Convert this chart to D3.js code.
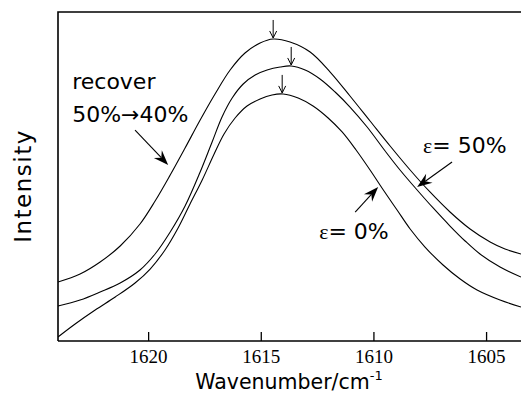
<!DOCTYPE html>
<html>
<head>
<meta charset="utf-8">
<script src="https://cdn.jsdelivr.net/npm/d3@7/dist/d3.min.js"></script>
<style>
  html, body { margin: 0; padding: 0; background: #fff; }
  svg { display: block; }
</style>
</head>
<body>
<svg id="chart" width="521" height="397"></svg>
<script>
// ---- data (wavenumber in cm^-1, intensity in arbitrary units) ----
const recoverWave = [1624.00, 1623.02, 1622.13, 1621.24, 1620.36, 1619.69, 1619.02, 1618.36, 1617.69, 1617.03, 1616.36, 1615.70, 1615.03, 1614.45, 1613.70, 1612.81, 1611.92, 1611.04, 1610.15, 1609.26, 1608.37, 1607.49, 1606.60, 1605.71, 1604.82, 1604.16, 1603.45];
const recoverInt  = [17.93, 20.36, 24.01, 28.88, 35.56, 42.55, 50.46, 58.66, 67.17, 75.08, 82.37, 87.54, 90.58, 91.79, 90.88, 87.84, 81.76, 74.47, 66.87, 59.27, 51.98, 45.29, 39.21, 34.04, 30.09, 27.96, 26.44];

const strain50Wave = [1624.00, 1623.02, 1622.13, 1621.24, 1620.36, 1619.69, 1619.02, 1618.36, 1617.69, 1617.16, 1616.72, 1616.27, 1615.78, 1615.25, 1614.72, 1614.14, 1613.65, 1613.03, 1612.37, 1611.70, 1611.04, 1610.28, 1609.48, 1608.82, 1608.06, 1607.35, 1606.60, 1605.93, 1605.27, 1604.38, 1603.45];
const strain50Int  = [10.64, 12.46, 14.89, 17.63, 21.58, 26.44, 33.13, 41.03, 51.37, 60.49, 68.09, 73.86, 78.12, 80.85, 82.37, 83.28, 83.59, 82.37, 79.64, 75.68, 71.12, 65.05, 57.75, 51.98, 45.90, 40.43, 34.95, 30.40, 26.44, 22.49, 19.45];

const strain0Wave = [1624.00, 1623.24, 1622.35, 1621.46, 1620.58, 1619.91, 1619.25, 1618.67, 1618.14, 1617.60, 1617.07, 1616.63, 1616.14, 1615.61, 1615.03, 1614.50, 1614.01, 1613.34, 1612.68, 1612.01, 1611.39, 1610.77, 1610.15, 1609.53, 1608.95, 1608.37, 1607.71, 1606.91, 1606.15, 1605.40, 1604.38, 1603.45];
const strain0Int  = [1.22, 5.17, 9.42, 13.37, 17.63, 21.88, 27.66, 34.35, 41.64, 48.94, 56.84, 62.92, 67.78, 71.43, 73.56, 74.77, 75.08, 73.86, 71.43, 67.78, 63.53, 58.05, 51.98, 45.59, 39.82, 34.04, 28.57, 23.10, 18.84, 15.50, 12.46, 10.33];

const peakWave = [1614.45, 1613.65, 1614.05];   // arrows marking band maxima
const peakInt  = [91.8, 83.6, 75.1];

const xTicks = [1620, 1615, 1610, 1605];
const xDomain = [1624, 1603.45];
const yDomain = [0, 100];

// ---- layout ----
const svg = d3.select("#chart");
const L = 58, R = 521, T = 12, B = 341;
const x = d3.scaleLinear().domain(xDomain).range([L, R]);
const y = d3.scaleLinear().domain(yDomain).range([B, T]);

svg.append("defs").append("clipPath").attr("id", "clip")
  .append("rect").attr("x", L).attr("y", T).attr("width", R - L).attr("height", B - T);

const line = d3.line().x(d => x(d[0])).y(d => y(d[1])).curve(d3.curveCatmullRom.alpha(0.5));
const series = [
  d3.zip(recoverWave, recoverInt),
  d3.zip(strain50Wave, strain50Int),
  d3.zip(strain0Wave, strain0Int)
];
svg.append("g").attr("clip-path", "url(#clip)")
  .selectAll("path").data(series).join("path")
  .attr("d", line).attr("fill", "none").attr("stroke", "#000").attr("stroke-width", 1.1);

// frame
svg.append("path")
  .attr("d", `M${R},${T}H${L}V${B}`)
  .attr("fill", "none").attr("stroke", "#000").attr("stroke-width", 1.6);

// x axis
const xAxis = d3.axisBottom(x).tickValues(xTicks).tickFormat(d3.format("d"))
  .tickSizeInner(-9).tickSizeOuter(0).tickPadding(9);
const gx = svg.append("g").attr("transform", `translate(0,${B})`).call(xAxis);
gx.select(".domain").attr("stroke-width", 1.6).attr("d", `M${L},0H${R}`);
gx.selectAll(".tick line").attr("stroke-width", 1.3);
gx.selectAll(".tick text").attr("font-family", "'Liberation Serif', serif").attr("font-size", 19).attr("fill", "#000");

// axis titles
const axTitle = svg.append("text")
  .attr("x", (185 + 393) / 2).attr("y", 389)
  .attr("text-anchor", "middle")
  .attr("font-family", "'DejaVu Sans', sans-serif").attr("font-size", 20.5).attr("fill", "#000");
axTitle.append("tspan").text("Wavenumber/cm");
axTitle.append("tspan").attr("dy", -9).attr("font-size", 13).text("-1");

svg.append("text")
  .attr("transform", "translate(31,186) rotate(-90)")
  .attr("text-anchor", "middle")
  .attr("font-family", "'DejaVu Sans', sans-serif").attr("font-size", 23)
  .attr("letter-spacing", 1.5).attr("fill", "#000")
  .text("Intensity");

// peak arrows
peakWave.forEach((w, i) => {
  const px = x(w), py = y(peakInt[i]) - 1;
  const g = svg.append("g").attr("stroke", "#000").attr("stroke-width", 1).attr("fill", "none");
  g.append("line").attr("x1", px).attr("x2", px).attr("y1", py - 18).attr("y2", py);
  g.append("path").attr("d", `M${px - 3.5},${py - 7}L${px},${py}L${px + 3.5},${py - 7}`);
});

// annotation arrows (data coordinates)
function arrow(w1, i1, w2, i2) {
  const x1 = x(w1), y1 = y(i1), x2 = x(w2), y2 = y(i2);
  const ang = Math.atan2(y2 - y1, x2 - x1);
  const len = 15, half = 5.5, back = 10;
  const bx = x2 - len * Math.cos(ang), by = y2 - len * Math.sin(ang);
  const nx = -Math.sin(ang), ny = Math.cos(ang);
  const mx = x2 - back * Math.cos(ang), my = y2 - back * Math.sin(ang);
  svg.append("line").attr("x1", x1).attr("y1", y1).attr("x2", mx).attr("y2", my)
    .attr("stroke", "#000").attr("stroke-width", 1.1);
  svg.append("path")
    .attr("d", `M${x2},${y2}L${bx + nx * half},${by + ny * half}L${mx},${my}L${bx - nx * half},${by - ny * half}Z`)
    .attr("fill", "#000");
}
arrow(1620.58, 64.1, 1619.11, 53.5);
arrow(1606.51, 54.4, 1608.06, 46.8);
arrow(1610.81, 39.2, 1609.79, 46.8);

// annotation texts
const font = "'DejaVu Sans', sans-serif";
svg.append("text").attr("x", x(1623.37)).attr("y", y(76.6)).attr("font-family", font).attr("font-size", 22).text("recover");
svg.append("text").attr("x", x(1623.37)).attr("y", y(66.6)).attr("font-family", font).attr("font-size", 22).text("50%→40%");

function epsLabel(w, v, txt) {
  const t = svg.append("text").attr("x", x(w)).attr("y", y(v)).attr("font-family", font).attr("font-size", 22);
  t.append("tspan").attr("font-family", "'Liberation Serif', serif").attr("font-size", 22).text("ε");
  t.append("tspan").text("= " + txt);
}
epsLabel(1607.80, 57.1, "50%");
epsLabel(1612.41, 31.0, "0%");
</script>
</body>
</html>
